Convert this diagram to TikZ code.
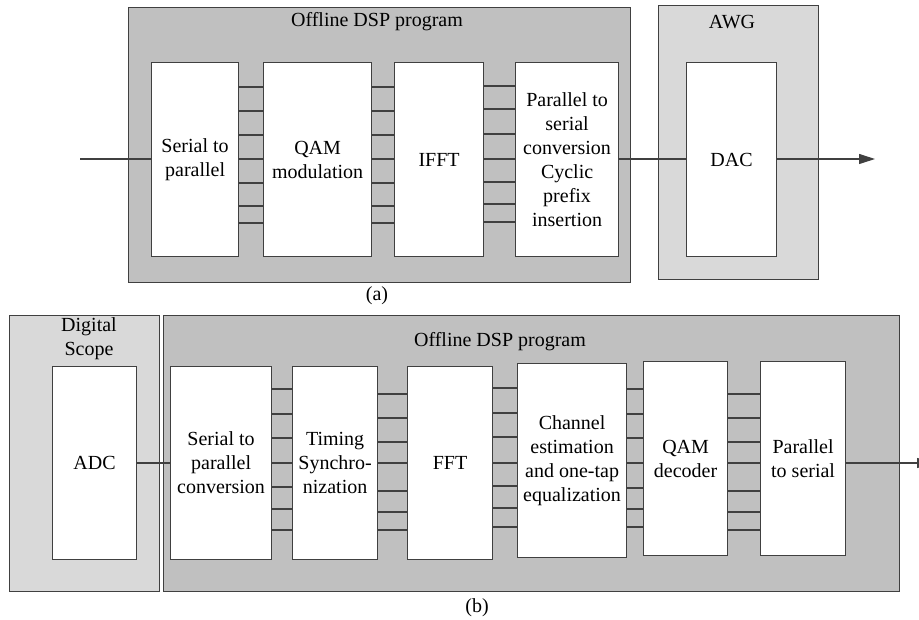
\documentclass[tikz,border=0pt]{standalone}
\usepackage{fontspec}
\setmainfont{Liberation Serif}
\usetikzlibrary{arrows.meta}
\definecolor{dspgray}{HTML}{C0C0C0}
\definecolor{devgray}{HTML}{D9D9D9}
\definecolor{edgegray}{HTML}{404040}
\begin{document}
\begin{tikzpicture}[x=1pt,y=-1pt,
  font=\fontsize{20}{24}\selectfont,
  box/.style={draw=edgegray, line width=1.2pt, inner sep=0pt, anchor=north west},
  dsppanel/.style={box, fill=dspgray},
  devpanel/.style={box, fill=devgray},
  blk/.style={box, fill=white, align=center, minimum height=194pt},
  wire/.style={draw=edgegray, line width=1.1pt},
  arrowwire/.style={wire, -{Triangle[length=16pt,width=10pt]}}]
\useasboundingbox (0,0) rectangle (919,620);

% ---------------- (a) transmitter ----------------
\node[dsppanel, minimum width=502pt, minimum height=275pt] (dspA) at (128,7) {};
\node[devpanel, minimum width=160pt, minimum height=274pt] (awg) at (658,5) {};
\node (dspAt) at (377,22) {Offline DSP program};
\node (awgt) at (732,22) {AWG};

\node[blk, minimum width=87pt]  (s2pA)  at (151,62) {Serial to\\parallel};
\node[blk, minimum width=108pt] (qamA)  at (263,62) {QAM\\modulation};
\node[blk, minimum width=89pt]  (ifftA) at (394,62) {IFFT};
\node[blk, minimum width=103pt] (p2sA)  at (515,62) {Parallel to\\serial\\conversion\\Cyclic\\prefix\\insertion};
\node[blk, minimum width=90pt]  (dac)   at (686,62) {DAC};

\coordinate (inA) at (80,159);
\coordinate (outA) at (875,159);
\draw[wire] (inA) -- (s2pA.west |- inA);
\foreach \yy in {87,111,135,159,183,206,223} {
  \draw[wire] (s2pA.east |- 0,\yy) -- (qamA.west |- 0,\yy);
  \draw[wire] (qamA.east |- 0,\yy) -- (ifftA.west |- 0,\yy);
}
\foreach \yy in {86,109,134,159,182,204,222}
  \draw[wire] (ifftA.east |- 0,\yy) -- (p2sA.west |- 0,\yy);
\draw[wire] (p2sA.east |- inA) -- (dac.west |- inA);
\draw[arrowwire] (dac.east |- outA) -- (outA);
\node (capA) at (377,296) {(a)};

% ---------------- (b) receiver ----------------
\node[devpanel, minimum width=150pt, minimum height=276pt] (scope) at (9,315) {};
\node[dsppanel, minimum width=736pt, minimum height=276pt] (dspB) at (163,315) {};
\node[align=center] (scopet) at (89,339) {Digital\\Scope};
\node (dspBt) at (500,342) {Offline DSP program};

\node[blk, minimum width=84pt, minimum height=193pt]  (adc)  at (52,366)  {ADC};
\node[blk, minimum width=101pt, minimum height=193pt] (s2pB) at (170,366) {Serial to\\parallel\\conversion};
\node[blk, minimum width=85pt, minimum height=193pt]  (tim)  at (292,366) {Timing\\Synchro-\\nization};
\node[blk, minimum width=85pt, minimum height=193pt]  (fft)  at (407,366) {FFT};
\node[blk, minimum width=109pt] (chan) at (517,363) {Channel\\estimation\\and one-tap\\equalization};
\node[blk, minimum width=84pt]  (qamB) at (643,361) {QAM\\decoder};
\node[blk, minimum width=85pt]  (p2sB) at (760,361) {Parallel\\to serial};

\coordinate (outB) at (933,463);
\draw[wire] (adc.east |- outB) -- (s2pB.west |- outB);
\foreach \yy in {389,414,438,463,487,509,530}
  \draw[wire] (s2pB.east |- 0,\yy) -- (tim.west |- 0,\yy);
\foreach \yy in {394,418,442,463,491,512,530} {
  \draw[wire] (tim.east |- 0,\yy) -- (fft.west |- 0,\yy);
  \draw[wire] (qamB.east |- 0,\yy) -- (p2sB.west |- 0,\yy);
}
\foreach \yy in {388,413,437,463,486,508,527}
  \draw[wire] (fft.east |- 0,\yy) -- (chan.west |- 0,\yy);
\foreach \yy in {389,414,438,463,488,509,527}
  \draw[wire] (chan.east |- 0,\yy) -- (qamB.west |- 0,\yy);
\draw[arrowwire] (p2sB.east |- outB) -- (outB);
\node (capB) at (477,608) {(b)};
\end{tikzpicture}
\end{document}
